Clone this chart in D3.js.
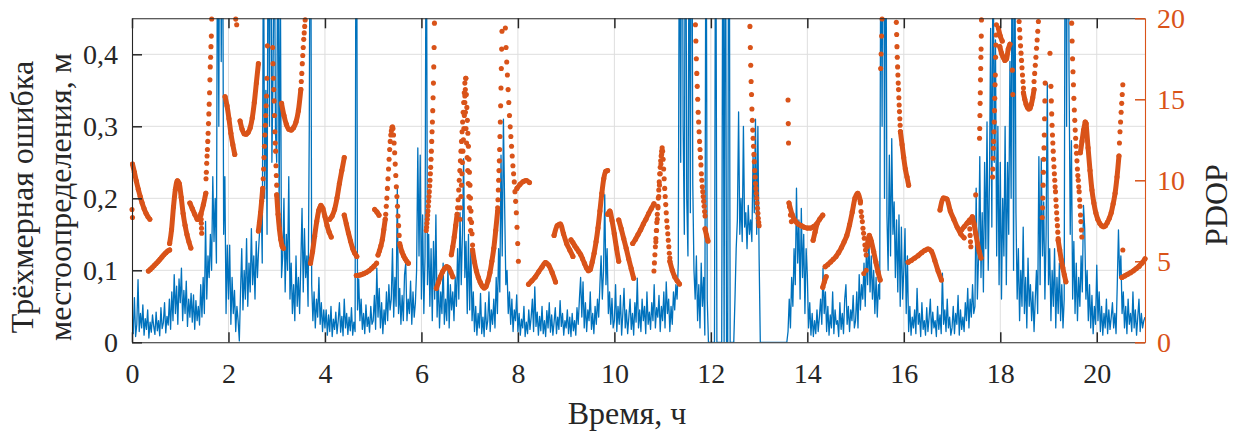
<!DOCTYPE html>
<html><head><meta charset="utf-8">
<script src="https://cdn.jsdelivr.net/npm/d3@7"></script>
<style>body{margin:0;background:#fff}svg{display:block}</style>
</head><body>
<svg id="c" width="1240" height="441"></svg>
<script>
// ---------- data ----------
const xTicks = [0, 2, 4, 6, 8, 10, 12, 14, 16, 18, 20];
const errTicks = [0, 0.1, 0.2, 0.3, 0.4];
const errTickLabels = ["0", "0,1", "0,2", "0,3", "0,4"];
const pdopTicks = [0, 5, 10, 15, 20];
const xTitle = "Время, ч";
const yTitleLines = ["Трёхмерная ошибка", "местоопределения, м"];
const y2Title = "PDOP";

// 3D position error (m), sampled every errStep hours from 0 h to 21 h
const errStep = 0.025;
const error3d = [
.030,.012,.062,.008,.025,.087,.015,.040,.020,.052,
.010,.033,.018,.045,.006,.028,.014,.038,.022,.011,
.042,.016,.030,.009,.048,.019,.027,.055,.013,.036,
.024,.060,.018,.070,.030,.094,.040,.078,.025,.088,
.055,.103,.030,.072,.040,.085,.022,.060,.035,.068,
.028,.066,.018,.058,.030,.050,.024,.080,.035,.090,
.040,.168,.060,.120,.090,.150,.100,.230,.140,.200,
.110,.650,.300,.900,.390,.700,.150,.230,.040,.135,
.060,.135,.025,.090,.040,.072,.015,.050,.030,.002,
.070,.130,.045,.100,.060,.144,.050,.110,.070,.158,
.080,.120,.060,.140,.090,.130,.160,.210,.110,.600,
.200,.350,.150,.700,.300,.800,.250,.380,.600,.290,
.250,.650,.180,.520,.090,.120,.200,.070,.150,.100,
.230,.060,.110,.040,.080,.030,.120,.050,.090,.040,
.110,.186,.070,.158,.090,.120,.050,.297,.800,.080,
.030,.070,.020,.060,.035,.090,.025,.055,.015,.045,
.020,.045,.010,.038,.015,.050,.008,.032,.018,.042,
.012,.030,.055,.014,.036,.009,.060,.020,.040,.011,
.035,.016,.048,.010,.028,.015,.900,.045,.088,.030,
.060,.018,.040,.012,.052,.022,.035,.014,.050,.025,
.030,.065,.018,.103,.035,.075,.020,.055,.012,.045,
.025,.070,.030,.080,.045,.060,.130,.035,.090,.050,
.214,.040,.075,.025,.065,.030,.094,.110,.030,.060,
.040,.085,.025,.070,.035,.055,.100,.270,.120,.260,
.060,.177,.040,.120,.700,.080,.150,.050,.130,.030,
.140,.060,.177,.035,.090,.020,.070,.040,.110,.025,
.060,.030,.105,.020,.080,.045,.070,.030,.090,.050,
.130,.060,.180,.080,.150,.255,.090,.140,.040,.150,
.045,.130,.030,.070,.015,.050,.010,.040,.020,.068,
.012,.035,.008,.055,.018,.030,.070,.015,.045,.025,
.060,.020,.090,.040,.130,.070,.260,.120,.310,.190,
.080,.100,.040,.070,.025,.060,.015,.045,.030,.066,
.015,.040,.010,.032,.020,.050,.008,.028,.012,.045,
.018,.035,.060,.015,.077,.022,.042,.010,.036,.016,
.050,.012,.030,.008,.044,.020,.055,.014,.038,.010,
.028,.048,.012,.035,.018,.058,.022,.040,.010,.030,
.020,.045,.012,.035,.008,.040,.016,.030,.010,.048,
.025,.060,.090,.035,.084,.020,.055,.015,.045,.030,
.070,.018,.040,.012,.050,.025,.060,.035,.080,.120,
.060,.100,.205,.080,.130,.040,.070,.025,.061,.020,
.030,.080,.015,.050,.025,.065,.010,.040,.075,.020,
.045,.012,.035,.060,.018,.040,.010,.055,.028,.089,
.020,.045,.015,.060,.030,.050,.012,.070,.025,.042,
.018,.055,.030,.080,.020,.048,.035,.065,.015,.050,
.030,.070,.020,.084,.040,.060,.015,.050,.025,.070,
.045,.080,.060,.110,.700,.250,.900,.300,.150,.800,
.200,.120,.650,.180,.850,.220,.100,.060,.120,.030,
.080,.020,.110,.050,.090,.010,.700,.060,.000,.000,
.000,.000,.000,.000,.750,.000,.000,.000,.000,.000,
.700,.000,.800,.000,.000,.900,.000,.000,.000,.000,
.060,.130,.170,.320,.150,.200,.140,.300,.160,.180,
.130,.190,.150,.170,.140,.260,.180,.310,.150,.300,
.120,.000,.000,.000,.000,.000,.000,.000,.000,.000,
.000,.000,.000,.000,.000,.000,.000,.000,.000,.000,
.000,.000,.000,.000,.015,.060,.020,.090,.050,.130,
.080,.214,.110,.170,.060,.186,.090,.150,.040,.130,
.093,.020,.055,.010,.040,.008,.030,.012,.045,.015,
.035,.060,.025,.103,.040,.070,.015,.050,.010,.038,
.020,.070,.012,.045,.025,.030,.008,.055,.018,.040,
.012,.060,.080,.025,.050,.015,.045,.030,.065,.020,
.030,.070,.020,.094,.045,.080,.060,.110,.050,.130,
.080,.150,.070,.120,.060,.100,.040,.090,.035,.080,
.060,.650,.300,.900,.200,.700,.177,.100,.260,.120,
.283,.150,.195,.090,.170,.070,.177,.050,.160,.060,
.100,.158,.040,.120,.015,.050,.010,.035,.020,.045,
.012,.075,.025,.040,.008,.055,.018,.030,.010,.048,
.015,.035,.060,.012,.042,.020,.030,.008,.050,.018,
.038,.012,.096,.025,.045,.015,.060,.020,.035,.010,
.020,.050,.012,.040,.025,.065,.010,.045,.018,.035,
.015,.055,.030,.075,.020,.060,.035,.080,.040,.050,
.214,.060,.120,.258,.090,.180,.070,.250,.130,.306,
.100,.220,.436,.160,.600,.250,.420,.120,.300,.080,
.250,.060,.200,.120,.300,.080,.250,.150,.390,.200,
.700,.100,.600,.180,.060,.130,.030,.100,.050,.160,
.040,.090,.020,.117,.050,.080,.030,.070,.015,.060,
.100,.040,.258,.080,.255,.120,.195,.060,.150,.360,
.080,.130,.030,.100,.050,.130,.020,.090,.040,.110,
.030,.080,.020,.060,.800,.300,.900,.378,.150,.280,
.060,.140,.040,.110,.030,.090,.050,.120,.070,.190,
.158,.060,.100,.030,.080,.020,.065,.012,.050,.025,
.107,.030,.070,.015,.050,.010,.040,.020,.060,.012,
.045,.018,.035,.055,.020,.040,.012,.080,.156,.090,
.120,.040,.070,.020,.050,.012,.060,.025,.040,.015,
.070,.020,.045,.010,.035,.060,.015,.040,.020,.030,
.035
];

// PDOP: [start hour, end hour, values evenly spaced in time]
// dense arcs (samples merge into a continuous band)
const pdopArcs = [
[0.01, 0.37, [11.0, 10.5, 9.95, 9.45, 9.0, 8.6, 8.25, 7.97, 7.75, 7.6]],
[0.34, 0.78, [4.4, 4.5, 4.62, 4.74, 4.86, 4.98, 5.12, 5.26, 5.4, 5.52, 5.63, 5.7]],
[0.78, 1.22, [6.1, 6.95, 8.35, 9.45, 9.97, 9.8, 8.95, 7.95, 7.22, 6.65, 6.2, 5.82]],
[1.20, 1.35, [8.6, 8.25, 7.9, 7.6]],
[1.38, 1.53, [7.6, 7.95, 8.5, 9.2]],
[1.93, 2.13, [15.16, 14.6, 13.8, 12.9, 12.2, 11.6]],
[2.24, 2.62, [13.66, 13.15, 12.88, 12.85, 12.96, 13.25, 13.85, 14.8, 16.0, 17.2]],
[2.62, 2.71, [6.87, 7.4, 8.0, 8.7, 9.5]],
[3.00, 3.14, [9.1, 7.9, 7.0, 6.35, 5.95, 5.8]],
[3.10, 3.50, [14.75, 14.0, 13.45, 13.15, 13.1, 13.25, 13.6, 14.3, 15.6]],
[3.70, 4.13, [4.88, 5.6, 6.55, 7.45, 8.15, 8.45, 8.25, 7.75, 7.2, 6.8, 6.5]],
[4.10, 4.40, [7.6, 7.8, 8.2, 8.9, 9.8, 10.6, 11.4]],
[4.40, 4.66, [7.85, 7.3, 6.75, 6.25, 5.8, 5.5, 5.3]],
[4.65, 5.07, [4.12, 4.14, 4.18, 4.24, 4.32, 4.42, 4.55, 4.7, 4.88]],
[5.03, 5.12, [8.2, 8.05, 7.85]],
[5.10, 5.25, [5.39, 5.65, 5.95, 6.35, 6.95, 7.6]],
[5.56, 5.73, [5.95, 5.6, 5.35, 5.15, 5.0, 4.88]],
[6.31, 6.65, [3.33, 3.7, 4.05, 4.35, 4.55, 4.67, 4.6, 4.35, 4.05]],
[6.62, 6.74, [5.4, 5.9, 6.5, 7.2, 7.9]],
[7.06, 7.58, [5.7, 4.95, 4.4, 4.0, 3.7, 3.47, 3.35, 3.45, 3.8, 4.3, 5.0, 5.8, 6.9, 8.1]],
[7.98, 8.24, [9.5, 9.75, 9.92, 9.98, 9.86]],
[8.22, 8.78, [3.58, 3.8, 4.03, 4.35, 4.65, 4.92, 4.75, 4.3, 3.72]],
[8.75, 9.14, [6.6, 7.2, 7.3, 6.7, 6.1, 5.7, 5.3]],
[9.10, 9.86, [6.32, 6.15, 5.95, 5.78, 5.6, 5.42, 5.15, 4.87, 4.6, 4.42, 4.5, 4.95, 5.5, 6.2, 7.05, 8.1, 9.2, 10.1, 10.55, 10.6]],
[9.86, 10.09, [7.9, 8.1, 7.5, 6.7, 5.8, 5.0]],
[10.09, 10.40, [7.55, 7.0, 6.4, 5.8, 5.15, 4.55, 3.95]],
[10.38, 10.82, [6.1, 6.35, 6.65, 6.95, 7.3, 7.6, 7.95, 8.25, 8.55]],
[11.15, 11.35, [5.0, 4.45, 4.05, 3.8, 3.6]],
[11.88, 11.94, [7.0, 6.6, 6.25]],
[13.62, 14.32, [8.6, 7.9, 7.5, 7.3, 7.2, 7.1, 7.05, 7.05, 7.15, 7.3, 7.6, 7.85]],
[14.12, 14.20, [6.3, 6.8, 7.3]],
[14.32, 14.39, [3.4, 3.75, 4.05]],
[14.37, 15.10, [4.67, 4.8, 4.96, 5.12, 5.3, 5.55, 5.85, 6.2, 6.6, 7.25, 8.05, 8.9, 9.2, 8.7]],
[15.24, 15.51, [5.9, 6.6, 6.2, 5.6, 4.95, 4.35, 3.85]],
[15.93, 16.10, [13.0, 12.2, 11.4, 10.7, 10.2, 9.7]],
[16.09, 16.78, [4.94, 5.06, 5.2, 5.35, 5.52, 5.67, 5.76, 5.62, 5.05, 4.4, 3.85]],
[16.75, 17.25, [8.17, 8.9, 8.85, 8.1, 7.6, 7.1, 6.7, 6.45]],
[17.20, 17.42, [6.95, 7.15, 7.35, 7.55, 7.7]],
[17.42, 17.60, [7.75, 7.3, 6.7, 6.1, 5.6, 5.2]],
[17.96, 18.04, [19.4, 18.9, 18.6]],
[17.99, 18.20, [18.25, 17.85, 17.6, 17.4, 17.5, 18.1, 18.4]],
[18.48, 18.70, [15.4, 15.0, 14.7, 14.5, 14.4, 14.45, 14.7, 15.1, 15.6]],
[19.20, 19.36, [6.3, 5.7, 5.1, 4.6, 4.15, 3.74]],
[19.66, 19.76, [11.7, 12.4, 13.1, 13.6]],
[19.78, 20.46, [13.5, 12.0, 10.6, 9.4, 8.6, 8.0, 7.6, 7.35, 7.2, 7.14, 7.2, 7.4, 7.65, 8.0, 8.55, 9.2, 10.2, 11.5]],
[20.52, 21.00, [4.0, 4.1, 4.2, 4.3, 4.42, 4.55, 4.7, 4.9, 5.15]]
];
// steep passages where the samples appear as separate dots
const pdopSparse = [
[0.00, 0.01, [8.2, 7.7]],
[1.43, 1.445, [7.86, 7.6, 7.35, 7.04, 6.73]],
[1.534, 1.652, [10.1, 10.5, 11.05, 11.5, 11.9, 12.4, 12.9, 13.5, 14.1, 14.7, 15.4, 16.2, 17.0, 17.6, 18.25, 18.9, 19.96]],
[2.15, 2.17, [19.95, 19.6]],
[2.72, 2.806, [10.1, 10.7, 11.4, 12.1, 12.8, 13.4, 14.0, 14.6, 15.2, 16.3, 18.3]],
[2.916, 3.0, [18.2, 17.2, 16.3, 15.6, 14.9, 14.0, 13.0, 12.3, 11.8, 10.9, 10.3, 9.7]],
[3.51, 3.59, [16.1, 16.6, 17.2, 17.7, 18.2, 18.7, 19.1, 19.5, 19.9]],
[5.26, 5.40, [7.9, 8.4, 8.9, 9.5, 10.1, 10.7, 11.3, 11.9, 12.4, 12.8, 13.05, 13.25, 13.3]],
[5.41, 5.55, [13.2, 12.8, 12.3, 11.7, 11.0, 10.3, 9.6, 9.0, 8.4, 7.8, 7.2, 6.6, 6.1]],
[6.10, 6.27, [6.9, 7.1, 7.35, 7.6, 7.85, 8.1, 8.4, 8.7, 9.0, 9.3, 9.65, 10.0, 10.4, 10.8, 11.3, 11.8, 12.4, 13.0, 13.6, 14.3, 15.1, 16.0, 17.0, 18.2, 19.7]],
[6.75, 6.90, [8.3, 8.8, 9.4, 10.0, 10.6, 11.2, 11.8, 12.4, 13.0, 13.6, 14.2, 14.8, 15.4, 16.0]],
[6.80, 6.92, [7.6, 8.3, 9.0, 9.7, 10.4, 11.1, 11.8, 12.5, 13.2, 14.0, 14.8, 15.6, 16.3]],
[6.92, 7.06, [16.3, 15.3, 14.5, 13.7, 12.9, 12.1, 11.3, 10.5, 9.7, 8.9, 8.1, 7.4, 6.7, 6.0]],
[6.90, 7.02, [15.2, 14.2, 13.2, 12.3, 11.4, 10.6, 9.8, 9.0, 8.3, 7.6, 6.9]],
[7.58, 7.67, [8.3, 8.8, 9.4, 10.0, 10.6, 11.2, 11.9, 12.7, 13.6, 14.6, 15.7, 16.9, 18.1, 19.2]],
[7.74, 8.01, [19.4, 18.2, 17.3, 16.5, 15.6, 14.8, 14.0, 13.3, 12.7, 12.1, 11.5, 10.9, 10.4, 9.9, 9.3, 8.7, 8.0, 7.1, 6.1, 5.0]],
[10.82, 10.99, [4.4, 4.9, 5.4, 5.9, 6.4, 6.9, 7.4, 7.9, 8.4, 8.9, 9.4, 9.9, 10.4, 10.8, 11.2, 11.5, 11.8, 12.0]],
[10.86, 10.98, [6.2, 6.9, 7.6, 8.3, 9.0, 9.7, 10.4, 11.0, 11.6]],
[11.00, 11.15, [11.8, 11.3, 10.7, 10.1, 9.5, 9.0, 8.5, 8.0, 7.5, 7.1, 6.7, 6.3, 5.9, 5.5, 5.2]],
[11.68, 11.88, [19.6, 18.6, 17.5, 16.6, 15.8, 15.0, 14.2, 13.6, 13.0, 12.4, 11.9, 11.4, 10.95, 10.4, 10.0, 9.6, 9.3, 9.0, 8.7, 8.4, 8.07, 7.8]],
[12.81, 13.00, [19.5, 18.2, 17.1, 16.1, 15.3, 14.4, 13.7, 13.1, 12.6, 12.1, 11.6, 11.15, 10.6, 10.2, 9.8, 9.5, 9.2, 8.9, 8.6, 8.27, 7.96, 7.65, 7.4, 7.2]],
[13.60, 13.61, [14.96, 13.5, 12.3]],
[13.63, 13.67, [8.37, 7.86, 7.45]],
[15.10, 15.22, [8.6, 8.07, 7.76, 7.45, 7.04, 6.73, 6.42, 6.0, 5.7, 5.39]],
[15.17, 15.22, [4.25, 4.45]],
[15.52, 15.55, [16.9, 17.8, 18.9, 19.96]],
[15.845, 15.93, [19.75, 19.0, 18.25, 17.6, 17.0, 16.5, 16.0, 15.6, 15.1, 14.65, 14.24, 13.8, 13.4, 13.0]],
[17.36, 17.39, [7.4, 7.0, 6.6, 6.2, 5.9]],
[17.49, 17.49, [9.1]],
[17.57, 17.61, [12.6, 13.2, 14.0, 14.75, 15.4, 16.2, 16.9, 17.6, 18.1, 18.9, 19.9]],
[17.84, 17.92, [10.2, 10.7, 11.36, 11.98, 12.4, 13.0, 13.6, 14.3, 15.06, 15.9, 16.5, 17.6, 18.35, 18.97, 19.6]],
[18.25, 18.26, [16.8, 15.3]],
[18.39, 18.48, [19.8, 19.3, 18.8, 18.3, 17.85, 17.4, 16.95, 16.5, 16.1, 15.7]],
[18.70, 18.79, [16.1, 16.6, 17.1, 17.6, 18.15, 18.66, 19.2, 19.8]],
[18.87, 18.93, [7.7, 8.3, 8.9, 9.7, 10.5, 11.3, 12.0, 12.8, 13.8, 14.9, 16.0]],
[19.03, 19.03, [17.84]],
[19.05, 19.20, [15.8, 14.9, 14.1, 13.4, 12.8, 12.3, 11.8, 11.3, 10.84, 10.4, 10.0, 9.6, 9.3, 8.8, 8.4, 8.0, 7.6, 7.2, 6.8, 6.4]],
[19.48, 19.69, [19.7, 18.6, 17.5, 16.7, 15.9, 15.06, 14.34, 13.7, 13.1, 12.6, 12.1, 11.67, 11.2, 10.7, 10.3, 10.0, 9.6, 9.3, 8.8, 8.4, 7.86, 7.45, 6.93, 6.5]],
[20.47, 20.54, [12.3, 13.0, 13.6, 14.2, 14.75, 15.3, 15.9]],
[20.54, 20.54, [5.7]]
];

// ---------- drawing ----------
const W = 1240, H = 441;
const L = 132, R = 1145, T = 18.3, B = 342.3;
const FONT = "'Liberation Serif','Times New Roman',serif";
const DARK = "#262626", BLUE = "#0072BD", ORANGE = "#D95319", GRID = "#dedede";

const x = d3.scaleLinear().domain([0, 21]).range([L, R]);
const yE = d3.scaleLinear().domain([0, 0.45]).range([B, T]);
const yP = d3.scaleLinear().domain([0, 20]).range([B, T]);

const svg = d3.select("#c");
svg.append("defs").append("clipPath").attr("id", "clip")
  .append("rect").attr("x", L).attr("y", T).attr("width", R - L).attr("height", B - T);

// grid
svg.append("g").selectAll("line").data(xTicks.filter(d => d > 0)).join("line")
  .attr("x1", d => x(d)).attr("x2", d => x(d)).attr("y1", T).attr("y2", B)
  .attr("stroke", GRID).attr("stroke-width", 1);
svg.append("g").selectAll("line").data(errTicks.filter(d => d > 0)).join("line")
  .attr("x1", L).attr("x2", R).attr("y1", d => yE(d)).attr("y2", d => yE(d))
  .attr("stroke", GRID).attr("stroke-width", 1);

// error series
const lineE = d3.line().x((d, i) => x(i * errStep)).y(d => yE(d));
svg.append("path").datum(error3d).attr("d", lineE)
  .attr("clip-path", "url(#clip)").attr("fill", "none")
  .attr("stroke", BLUE).attr("stroke-width", 1.3).attr("stroke-linejoin", "round");

// PDOP series
const toPts = s => s[2].map((v, i) => [s[0] + (s[2].length > 1 ? i * (s[1] - s[0]) / (s[2].length - 1) : 0), v]);
const lineP = d3.line().x(d => x(d[0])).y(d => yP(d[1])).curve(d3.curveMonotoneX);
const gp = svg.append("g");
pdopArcs.forEach(s => {
  gp.append("path").datum(toPts(s)).attr("d", lineP).attr("fill", "none")
    .attr("stroke", ORANGE).attr("stroke-width", 5)
    .attr("stroke-linecap", "round").attr("stroke-linejoin", "round");
});
const allDots = pdopArcs.concat(pdopSparse).flatMap(toPts).filter(d => d[1] <= 20.05);
gp.selectAll("circle").data(allDots).join("circle")
  .attr("cx", d => x(d[0])).attr("cy", d => yP(d[1])).attr("r", 2.55).attr("fill", ORANGE);

// axes
function styleAxis(g, color, showText) {
  g.select(".domain").attr("stroke", color).attr("stroke-width", 1.1);
  g.selectAll(".tick line").attr("stroke", color).attr("stroke-width", 1.5);
  g.selectAll(".tick text").attr("fill", color).attr("font-family", FONT).attr("font-size", 28);
  if (!showText) g.selectAll(".tick text").remove();
}
svg.append("g").attr("transform", `translate(0,${B})`)
  .call(d3.axisBottom(x).tickValues(xTicks).tickSizeInner(-10).tickSizeOuter(0).tickPadding(21).tickFormat(d3.format("d")))
  .call(g => styleAxis(g, DARK, true));
svg.append("g").attr("transform", `translate(0,${T})`)
  .call(d3.axisTop(x).tickValues(xTicks).tickSizeInner(-10).tickSizeOuter(0).tickFormat(""))
  .call(g => styleAxis(g, DARK, false));
svg.append("g").attr("transform", `translate(${L},0)`)
  .call(d3.axisLeft(yE).tickValues(errTicks).tickSizeInner(-10).tickSizeOuter(0).tickPadding(14)
    .tickFormat(d => errTickLabels[errTicks.indexOf(d)]))
  .call(g => styleAxis(g, DARK, true));
svg.append("g").attr("transform", `translate(${R},0)`)
  .call(d3.axisRight(yP).tickValues(pdopTicks).tickSizeInner(-10).tickSizeOuter(0).tickPadding(12))
  .call(g => styleAxis(g, ORANGE, true));

// titles
svg.append("text").attr("x", 627).attr("y", 424).attr("text-anchor", "middle")
  .attr("font-family", FONT).attr("font-size", 32).attr("fill", DARK).text(xTitle);
yTitleLines.forEach((t, i) => {
  svg.append("text").attr("transform", `translate(${33 + i * 38},197) rotate(-90)`)
    .attr("text-anchor", "middle").attr("font-family", FONT).attr("font-size", 32)
    .attr("fill", DARK).text(t);
});
svg.append("text").attr("transform", `translate(1227,205) rotate(-90)`)
  .attr("text-anchor", "middle").attr("font-family", FONT).attr("font-size", 32)
  .attr("fill", DARK).text(y2Title);
</script>
</body></html>
